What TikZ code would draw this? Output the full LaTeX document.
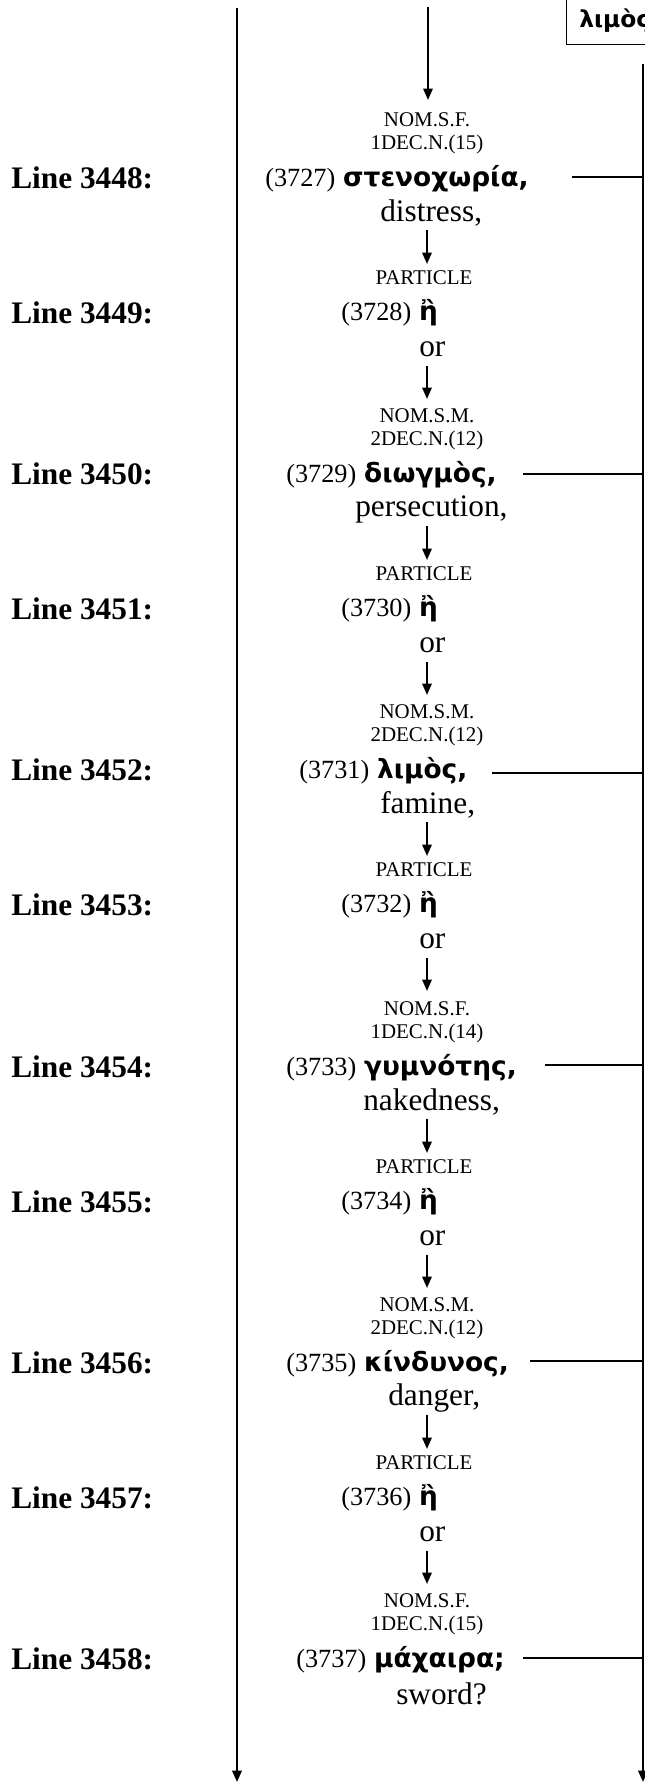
\documentclass[tikz,border=0pt]{standalone}
\usepackage{fontspec}
\setmainfont{Liberation Serif}
\newfontfamily\grk{DejaVu Sans}
\usetikzlibrary{arrows.meta}
\newcommand\gword[2]{{\fontsize{19.7}{22}\selectfont(#1)}~{\grk\bfseries\fontsize{19.8}{22}\selectfont #2}}
\newcommand\hword[1]{{\fontsize{19.7}{22}\selectfont(#1)}~{\grk\bfseries\fontsize{19.8}{22}\selectfont ἢ}}
\begin{document}
\begin{tikzpicture}[x=0.75pt,y=-0.75pt,
  lbl/.style={font=\fontsize{23.5}{26}\selectfont\bfseries, anchor=west, inner sep=0pt},
  tag/.style={font=\fontsize{15.7}{18}\selectfont, inner sep=0pt},
  txt/.style={font=\fontsize{23.5}{26}\selectfont, anchor=west, inner sep=0pt},
  arr/.style={line width=1.5pt, -{Triangle[length=8.5pt,width=7pt]}},
  longarr/.style={line width=1.8pt, -{Triangle[length=8.5pt,width=7pt]}},
  conn/.style={line width=1.3pt}]
\useasboundingbox (0,0) rectangle (644,1782);

% top box and top arrow
\node[draw, line width=1.1pt, anchor=north west, minimum width=120pt, minimum height=40.5pt, inner sep=0pt] (box) at (566,-10) {};
\node[anchor=west, inner sep=0pt, font=\grk\bfseries\fontsize{17.5}{20}\selectfont] (boxt) at (579,21) {λιμὸς};
\coordinate (topstart) at (428,7);
\coordinate (topend) at (428,100);
\draw[arr] (topstart) -- (topend);

% long side lines
\coordinate (ls) at (237,8);
\coordinate (le) at (237,1782);
\coordinate (rs) at (643,64);
\coordinate (re) at (643,1782);
\draw[longarr] (ls) -- (le);
\draw[longarr] (rs) -- (re);

% ---------------- group 0 (y0 = 177)
\node[lbl] (L3448) at (11,178) {Line 3448:};
\node[lbl] (L3449) at (11,313) {Line 3449:};
\node[tag] (nom0) at (427,120) {NOM.S.F.};
\node[tag] (dec0) at (427,144) {1DEC.N.(15)};
\node[txt] (w0) at (265,179) {\gword{3727}{στενοχωρία,}};
\node[txt] (t0) at (380,213) {distress,};
\coordinate (a0s) at (427,230); \coordinate (a0e) at (427,264);
\draw[arr] (a0s) -- (a0e);
\node[tag] (p0) at (424,278) {PARTICLE};
\node[txt] (h0) at (341,313) {\hword{3728}};
\node[txt] (o0) at (419,349) {or};
\coordinate (b0s) at (427,366); \coordinate (b0e) at (427,399);
\draw[arr] (b0s) -- (b0e);
\coordinate (c0) at (572,177);
\draw[conn] (c0) -- (c0 -| re);

% ---------------- group 1 (y0 = 473)
\node[lbl] (L3450) at (11,474) {Line 3450:};
\node[lbl] (L3451) at (11,609) {Line 3451:};
\node[tag] (nom1) at (427,416) {NOM.S.M.};
\node[tag] (dec1) at (427,440) {2DEC.N.(12)};
\node[txt] (w1) at (286,475) {\gword{3729}{διωγμὸς,}};
\node[txt] (t1) at (355,509) {persecution,};
\coordinate (a1s) at (427,526); \coordinate (a1e) at (427,560);
\draw[arr] (a1s) -- (a1e);
\node[tag] (p1) at (424,574) {PARTICLE};
\node[txt] (h1) at (341,609) {\hword{3730}};
\node[txt] (o1) at (419,645) {or};
\coordinate (b1s) at (427,662); \coordinate (b1e) at (427,695);
\draw[arr] (b1s) -- (b1e);
\coordinate (c1) at (523,474);
\draw[conn] (c1) -- (c1 -| re);

% ---------------- group 2 (y0 = 769)
\node[lbl] (L3452) at (11,770) {Line 3452:};
\node[lbl] (L3453) at (11,905) {Line 3453:};
\node[tag] (nom2) at (427,712) {NOM.S.M.};
\node[tag] (dec2) at (427,736) {2DEC.N.(12)};
\node[txt] (w2) at (299,771) {\gword{3731}{λιμὸς,}};
\node[txt] (t2) at (380,805) {famine,};
\coordinate (a2s) at (427,822); \coordinate (a2e) at (427,856);
\draw[arr] (a2s) -- (a2e);
\node[tag] (p2) at (424,870) {PARTICLE};
\node[txt] (h2) at (341,905) {\hword{3732}};
\node[txt] (o2) at (419,941) {or};
\coordinate (b2s) at (427,958); \coordinate (b2e) at (427,991);
\draw[arr] (b2s) -- (b2e);
\coordinate (c2) at (492,773);
\draw[conn] (c2) -- (c2 -| re);

% ---------------- group 3 (y0 = 1066)
\node[lbl] (L3454) at (11,1067) {Line 3454:};
\node[lbl] (L3455) at (11,1202) {Line 3455:};
\node[tag] (nom3) at (427,1009) {NOM.S.F.};
\node[tag] (dec3) at (427,1033) {1DEC.N.(14)};
\node[txt] (w3) at (286,1068) {\gword{3733}{γυμνότης,}};
\node[txt] (t3) at (363,1102) {nakedness,};
\coordinate (a3s) at (427,1119); \coordinate (a3e) at (427,1153);
\draw[arr] (a3s) -- (a3e);
\node[tag] (p3) at (424,1167) {PARTICLE};
\node[txt] (h3) at (341,1202) {\hword{3734}};
\node[txt] (o3) at (419,1238) {or};
\coordinate (b3s) at (427,1255); \coordinate (b3e) at (427,1288);
\draw[arr] (b3s) -- (b3e);
\coordinate (c3) at (545,1065);
\draw[conn] (c3) -- (c3 -| re);

% ---------------- group 4 (y0 = 1362)
\node[lbl] (L3456) at (11,1363) {Line 3456:};
\node[lbl] (L3457) at (11,1498) {Line 3457:};
\node[tag] (nom4) at (427,1305) {NOM.S.M.};
\node[tag] (dec4) at (427,1329) {2DEC.N.(12)};
\node[txt] (w4) at (286,1364) {\gword{3735}{κίνδυνος,}};
\node[txt] (t4) at (388,1398) {danger,};
\coordinate (a4s) at (427,1415); \coordinate (a4e) at (427,1449);
\draw[arr] (a4s) -- (a4e);
\node[tag] (p4) at (424,1463) {PARTICLE};
\node[txt] (h4) at (341,1498) {\hword{3736}};
\node[txt] (o4) at (419,1534) {or};
\coordinate (b4s) at (427,1551); \coordinate (b4e) at (427,1584);
\draw[arr] (b4s) -- (b4e);
\coordinate (c4) at (530,1361);
\draw[conn] (c4) -- (c4 -| re);

% ---------------- group 5 (y0 = 1658)
\node[lbl] (L3458) at (11,1659) {Line 3458:};
\node[tag] (nom5) at (427,1601) {NOM.S.F.};
\node[tag] (dec5) at (427,1625) {1DEC.N.(15)};
\node[txt] (w5) at (296,1660) {\gword{3737}{μάχαιρα;}};
\node[txt] (t5) at (396,1694) {sword?};
\coordinate (c5) at (523,1658);
\draw[conn] (c5) -- (c5 -| re);
\end{tikzpicture}
\end{document}
